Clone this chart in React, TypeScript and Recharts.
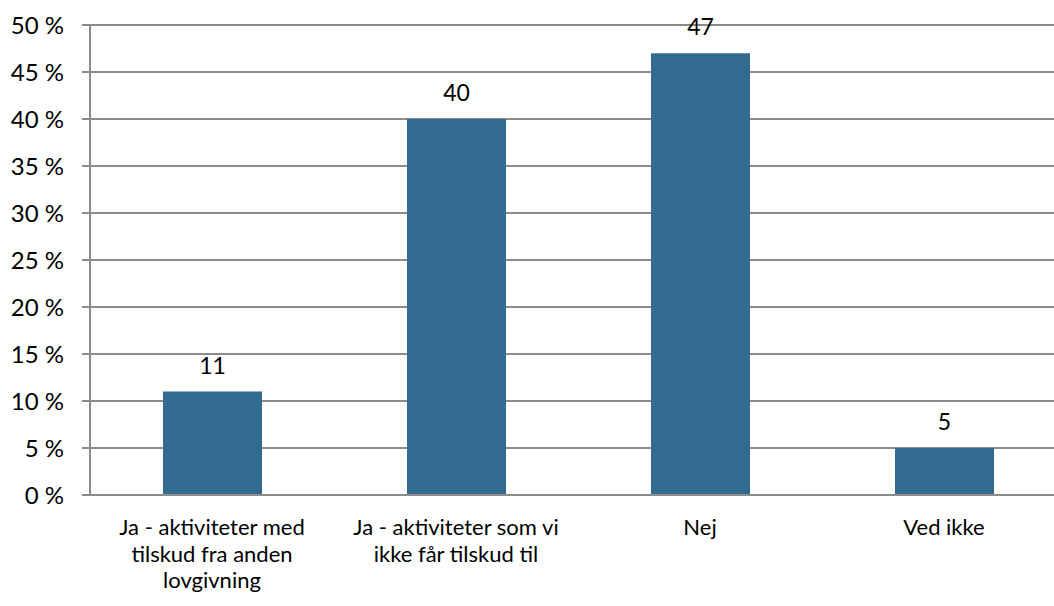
import { BarChart, Bar, XAxis, YAxis, CartesianGrid, LabelList } from 'recharts';

const categories = [
  'Ja - aktiviteter med\ntilskud fra anden\nlovgivning',
  'Ja - aktiviteter som vi\nikke får tilskud til',
  'Nej',
  'Ved ikke',
];
const values = [11, 40, 47, 5];
const yTicks = [0, 5, 10, 15, 20, 25, 30, 35, 40, 45, 50];
const edgeTicks = [0, 1, 2, 3, 4];

const data = categories.map((name, i) => ({ name, value: values[i] }));

const FONT = 'Lato, "Open Sans", sans-serif';
const GRID = '#8c8c8c';
const BAR = '#336a91';

// etiketter på flere linjer under hver kategori
const CategoryTick = (props: any) => {
  const { x, y, payload } = props;
  const lines = String(payload.value).split('\n');
  return (
    <text x={x} y={y} textAnchor="middle" fontFamily={FONT} fontSize={22} fill="#000">
      {lines.map((line, i) => (
        <tspan key={i} x={x} dy={i === 0 ? 32 : 26.5}>
          {line}
        </tspan>
      ))}
    </text>
  );
};

export default function App() {
  return (
    <div style={{ position: 'absolute', left: 0, top: 0, width: 1054, height: 606, overflow: 'hidden', background: '#fff' }}>
      <BarChart
        width={1066}
        height={606}
        data={data}
        margin={{ top: 25, right: 0, bottom: 0, left: 0 }}
        barSize={99}
      >
        <CartesianGrid horizontal vertical={false} stroke={GRID} strokeWidth={2} />
        <XAxis
          xAxisId="edges"
          type="number"
          domain={[0, 4]}
          ticks={edgeTicks}
          tick={false}
          tickLine={{ stroke: GRID, strokeWidth: 2 }}
          tickSize={8}
          axisLine={false}
          height={0}
        />
        <XAxis
          xAxisId="cat"
          dataKey="name"
          height={111}
          tickLine={false}
          axisLine={{ stroke: GRID, strokeWidth: 2 }}
          tick={<CategoryTick />}
          interval={0}
        />
        <YAxis
          width={90}
          domain={[0, 50]}
          ticks={yTicks}
          tickFormatter={(v: number) => `${v} %`}
          tickSize={8}
          tickMargin={18}
          tickLine={{ stroke: GRID, strokeWidth: 2 }}
          axisLine={{ stroke: GRID, strokeWidth: 2 }}
          tick={{ fontFamily: FONT, fontSize: 24, fill: '#000' }}
        />
        <Bar dataKey="value" xAxisId="cat" fill={BAR} isAnimationActive={false}>
          <LabelList dataKey="value" position="top" offset={18} style={{ fontFamily: FONT, fontSize: 23, fill: '#000' }} />
        </Bar>
      </BarChart>
    </div>
  );
}
